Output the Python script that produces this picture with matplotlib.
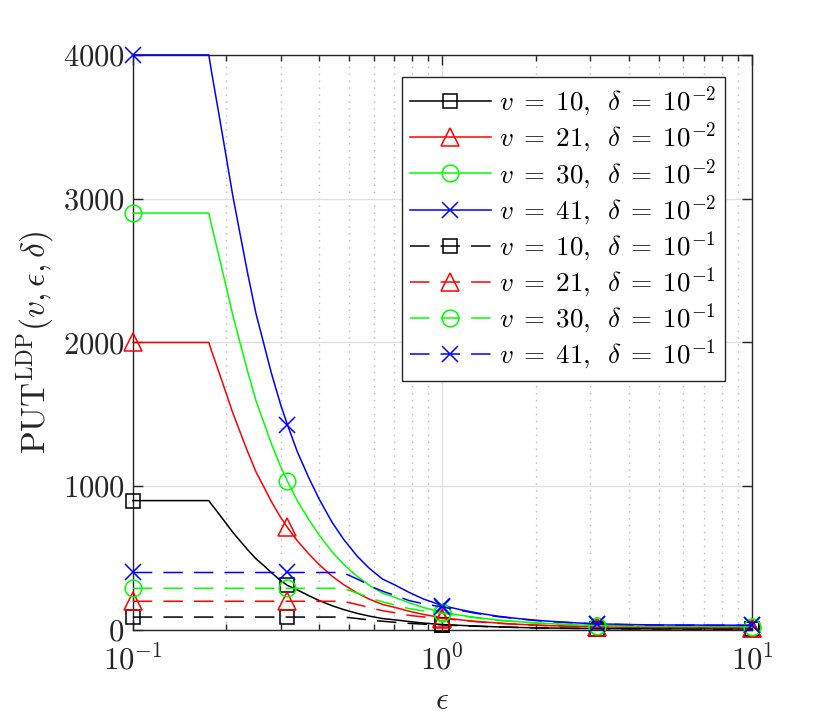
import matplotlib
matplotlib.use("Agg")
import matplotlib.pyplot as plt
from matplotlib.ticker import LogLocator, NullFormatter

plt.rcParams['font.family'] = 'serif'
plt.rcParams['font.serif'] = ['cmr10', 'DejaVu Serif']
plt.rcParams['mathtext.fontset'] = 'cm'
plt.rcParams['axes.unicode_minus'] = False
plt.rcParams['axes.formatter.use_mathtext'] = True
plt.rcParams['lines.scale_dashes'] = False

# epsilon samples for the delta = 1e-2 curves (solid)
eps_solid = [0.1, 0.176, 0.18, 0.19, 0.2, 0.21, 0.22, 0.235, 0.25, 0.265, 0.28, 0.3,
             0.316, 0.34, 0.37, 0.4, 0.44, 0.48, 0.53, 0.58, 0.64, 0.7, 0.78, 0.87,
             1.0, 1.15, 1.3, 1.5, 1.75, 2.0, 2.4, 2.8, 3.16, 4.0, 5.0, 7.0, 10]
put_v10_d2 = [900, 900, 871, 806, 743, 682, 630, 558, 495, 448, 400, 345,
              310, 279, 239, 205, 169, 142, 116, 97, 80, 71, 59, 48,
              38, 32, 27, 22, 18, 15, 13, 11, 10, 9, 8, 8, 7]
put_v21_d2 = [2000, 2000, 1935, 1790, 1650, 1515, 1400, 1240, 1100, 995, 895, 785,
              713, 620, 530, 455, 375, 315, 258, 215, 178, 158, 131, 108,
              85, 70, 59, 49, 40, 34, 28, 24, 22, 19, 18, 17, 16]
put_v30_d2 = [2900, 2900, 2806, 2596, 2393, 2197, 2030, 1798, 1595, 1443, 1298, 1138,
              1034, 899, 769, 660, 544, 457, 373, 312, 257, 228, 190, 156,
              123, 102, 86, 70, 58, 49, 41, 35, 31, 28, 25, 25, 24]
put_v41_d2 = [4000, 4000, 3870, 3580, 3300, 3030, 2800, 2480, 2200, 1990, 1790, 1570,
              1426, 1240, 1060, 910, 750, 630, 515, 430, 355, 315, 262, 215,
              170, 140, 118, 97, 80, 68, 56, 48, 43, 38, 35, 34, 33]

# epsilon samples for the delta = 1e-1 curves (dashed)
eps_dash = [0.1, 0.316, 0.476, 0.5, 0.53, 0.56, 0.6, 0.65, 0.7, 0.78, 0.87, 1.0,
            1.15, 1.3, 1.5, 1.75, 2.0, 2.4, 2.8, 3.16, 4.0, 5.0, 7.0, 10]
put_v10_d1 = [90, 90, 90, 86, 80, 74, 66, 60, 54, 46, 41, 36,
              30, 26, 21, 18, 15, 12, 11, 9, 8, 8, 7, 7]
put_v21_d1 = [200, 200, 200, 190, 178, 165, 148, 132, 121, 102, 91, 80,
              68, 57, 47, 39, 33, 28, 24, 21, 19, 17, 16, 16]
put_v30_d1 = [290, 290, 290, 276, 257, 239, 214, 192, 175, 149, 132, 116,
              98, 83, 68, 57, 48, 40, 34, 30, 27, 25, 24, 23]
put_v41_d1 = [400, 400, 400, 380, 355, 330, 295, 265, 242, 205, 182, 160,
              135, 114, 94, 78, 66, 55, 47, 42, 37, 34, 33, 32]

v_values = ['10', '21', '30', '41']
labels_d2 = [r'$v\;=\;%s,\ \,\delta\;=\;10^{-2}$' % v for v in v_values]
labels_d1 = [r'$v\;=\;%s,\ \,\delta\;=\;10^{-1}$' % v for v in v_values]

colors = ['black', '#ff0000', '#00ff00', '#0000ff']
markers = ['s', '^', 'o', 'x']
msizes = [9.5, 13, 12, 11]

# markers sit at eps = 0.1, 10^-0.5, 1, 10^0.5, 10
mark_solid = [0, 12, 24, 32, 36]
mark_dash = [0, 1, 11, 19, 23]

fig = plt.figure(figsize=(8.3, 7.28), dpi=100)
ax = fig.add_axes([0.160, 0.1346, 0.746, 0.79])

solid_data = [put_v10_d2, put_v21_d2, put_v30_d2, put_v41_d2]
dash_data = [put_v10_d1, put_v21_d1, put_v30_d1, put_v41_d1]

for y, c, m, ms, lab in zip(solid_data, colors, markers, msizes, labels_d2):
    ax.plot(eps_solid, y, color=c, lw=1.1, marker=m, ms=ms, mfc='none', mew=1.1,
            markevery=mark_solid, label=lab, clip_on=False, zorder=3)
for y, c, m, ms, lab in zip(dash_data, colors, markers, msizes, labels_d1):
    ax.plot(eps_dash, y, color=c, lw=1.1, marker=m, ms=ms, mfc='none', mew=1.1,
            markevery=mark_dash, label=lab, dashes=(14, 8), clip_on=False, zorder=3)

ax.set_xscale('log')
ax.set_xlim(0.1, 10)
ax.set_ylim(0, 4000)
ax.set_yticks([0, 1000, 2000, 3000, 4000])
ax.xaxis.set_minor_locator(LogLocator(base=10, subs=range(2, 10)))
ax.xaxis.set_minor_formatter(NullFormatter())

ax.grid(True, which='major', color='#dfdfdf', lw=1.0, ls='-')
ax.grid(True, which='minor', axis='x', color='#b8b8b8', lw=1.0, ls=(0, (1, 4)))
ax.set_axisbelow(True)

ax.tick_params(which='both', direction='in', top=True, right=True,
               labelsize=22, colors='#262626', width=1.0)
ax.tick_params(which='major', length=7)
ax.tick_params(which='minor', length=4)
ax.tick_params(axis='y', pad=6)
ax.tick_params(axis='x', pad=11)
for s in ax.spines.values():
    s.set_color('#262626')
    s.set_linewidth(1.0)

ax.set_xlabel(r'$\epsilon$', fontsize=23, color='#262626', labelpad=8)
ax.set_ylabel(r'$\mathrm{PUT}^{\mathrm{LDP}}(v,\epsilon,\delta)$', fontsize=24,
              color='#262626', labelpad=4)

leg = ax.legend(loc='upper right', bbox_to_anchor=(0.956, 0.962), borderaxespad=0,
                fontsize=19.5, handlelength=3.0, handletextpad=0.3, labelspacing=0.07,
                borderpad=0.3, fancybox=False, framealpha=1, edgecolor='#262626')
leg.get_frame().set_linewidth(1.0)

fig.savefig('out.png', dpi=100)
